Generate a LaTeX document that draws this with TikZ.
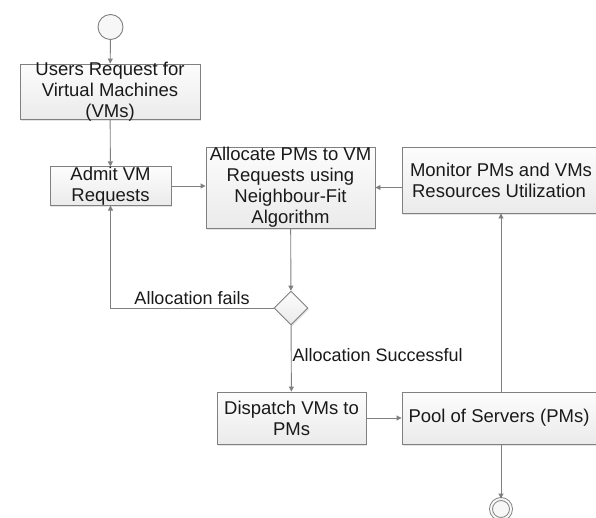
\documentclass[tikz,border=0pt]{standalone}
\usepackage{fontspec}
\setmainfont{Liberation Sans}
\definecolor{flowLine}{HTML}{7F7F7F}
\definecolor{flowEdge}{HTML}{808080}
\definecolor{flowInk}{HTML}{1A1A1A}
\usetikzlibrary{arrows.meta, shapes.geometric, shadows}

\begin{document}
\begin{tikzpicture}[
        x=1pt, y=-1pt,
        actbox/.style={
          rectangle,
          draw=flowEdge,
          top color=gray!2,
          bottom color=gray!16,
          text=flowInk,
          align=center,
          inner sep=0pt,
          font=\fontsize{18.5}{21}\selectfont,
          line width=0.9pt,
          drop shadow={shadow xshift=1pt, shadow yshift=-1.5pt, fill=gray!35, opacity=0.6},
        },
        decide/.style={actbox, diamond, aspect=1, minimum width=34pt, minimum height=34pt},
        startnode/.style={circle, draw=flowEdge, fill=gray!6, line width=0.9pt, minimum size=25pt, inner sep=0pt},
        endnode/.style={startnode, double=gray!6, double distance=2pt, minimum size=20pt},
        lbl/.style={text=flowInk, font=\fontsize{18}{21}\selectfont, inner sep=1pt},
        arr/.style={-{Triangle[length=5pt, width=5pt]}, flowLine, line width=0.9pt},
      ]
        \useasboundingbox (0,0) rectangle (596,517);

        \node[startnode] (start) at (110.5,27) {};
        \node[actbox, minimum width=180pt, minimum height=55pt,
              label={[lbl, font=\fontsize{18.5}{21}\selectfont, align=center]center:Users Request for\\Virtual Machines\\(VMs)}]
              (req) at (110,91.5) {};
        \node[actbox, minimum width=121pt, minimum height=36pt] (admit) at (110.5,186) {Admit VM\\Requests};
        \node[actbox, minimum width=169pt, minimum height=81pt] (alloc) at (290.5,187.5) {Allocate PMs to VM\\Requests using\\Neighbour-Fit\\Algorithm};
        \node[actbox, minimum width=198pt, minimum height=66pt] (monitor) at (501,180) {Monitor PMs and VMs\\Resources Utilization\hspace*{4pt}};
        \node[decide] (dec) at (291,308) {};
        \node[actbox, minimum width=149pt, minimum height=52pt] (dispatch) at (291.5,418) {Dispatch VMs to\\PMs};
        \node[actbox, minimum width=198pt, minimum height=52pt] (pool) at (501,418) {Pool of Servers (PMs)\hspace*{4pt}};
        \node[endnode] (stop) at (501,509) {};

        \draw[arr] (start) -- (req);
        \draw[arr] (req) -- (admit);
        \draw[arr] (admit.east) -- (admit.east -| alloc.west);
        \draw[arr] (alloc.east -| monitor.west) -- (alloc.east);
        \draw[arr] (alloc) -- (dec);
        \draw[arr] (dec.west) -| node[lbl, pos=0.25, above=2pt] {Allocation fails} (admit.south);
        \draw[arr] (dec) -- node[lbl, pos=0.45, anchor=west] {Allocation Successful} (dispatch);
        \draw[arr] (dispatch) -- (pool);
        \draw[arr] (pool) -- (monitor);
        \draw[arr] (pool) -- (stop);
      \end{tikzpicture}
\end{document}
